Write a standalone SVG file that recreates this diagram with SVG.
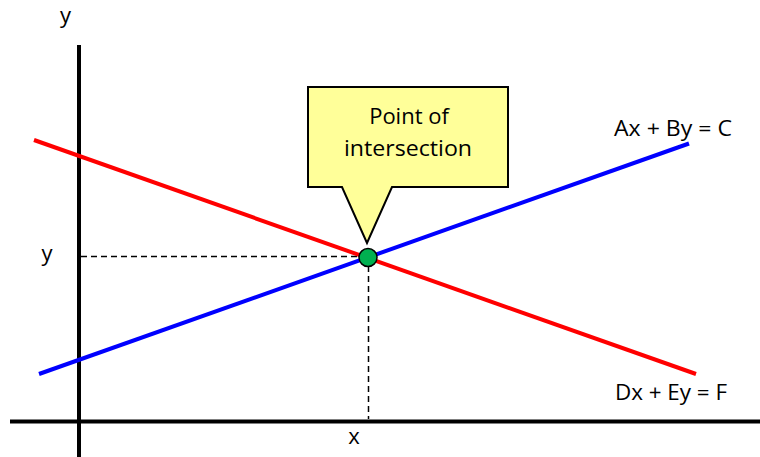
<svg xmlns="http://www.w3.org/2000/svg" width="760" height="457" viewBox="0 0 760 457">
<style>
.lbl{font-family:"Open Sans","Liberation Sans",sans-serif;font-size:22px;fill:#000}
.axis{stroke:#000;stroke-width:4;fill:none}
.dash{stroke:#000;stroke-width:1.5;stroke-dasharray:6 4;fill:none}
</style>
<rect width="760" height="457" fill="#fff"/>
<g id="connectors">
  <line class="axis" x1="79" y1="45" x2="79" y2="457"/>
  <line class="axis" x1="10" y1="421.5" x2="760" y2="421.5"/>
  <line class="dash" x1="81" y1="256.5" x2="362" y2="256.5"/>
  <line class="dash" x1="368.5" y1="266" x2="368.5" y2="419"/>
  <line id="line-red" x1="34" y1="140" x2="696" y2="374" stroke="#ff0000" stroke-width="4"/>
  <line id="line-blue" x1="39" y1="374" x2="689" y2="143.5" stroke="#0000ff" stroke-width="4"/>
</g>
<g id="point">
  <circle cx="368" cy="257.5" r="9" fill="#00b050" stroke="#000" stroke-width="1.5"/>
</g>
<g id="callout">
  <path d="M308,87 H508 V187 H392 L367,243 L342,187 H308 Z" fill="#ffff99" stroke="#000" stroke-width="2"/>
  <text class="lbl" x="409" y="123.5" text-anchor="middle">Point of</text>
  <text class="lbl" x="408" y="155.5" text-anchor="middle" textLength="128" lengthAdjust="spacingAndGlyphs">intersection</text>
</g>
<g id="labels">
  <text class="lbl" x="65.5" y="23" text-anchor="middle">y</text>
  <text class="lbl" x="47" y="261" text-anchor="middle">y</text>
  <text class="lbl" x="354" y="444" text-anchor="middle">x</text>
  <text class="lbl" x="614" y="136" textLength="118" lengthAdjust="spacingAndGlyphs">Ax + By = C</text>
  <text class="lbl" x="615" y="400" textLength="112" lengthAdjust="spacingAndGlyphs">Dx + Ey = F</text>
</g>
</svg>
